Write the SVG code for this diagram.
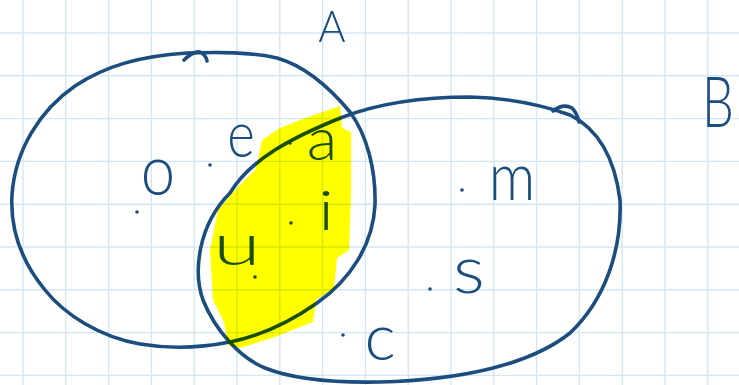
<svg xmlns="http://www.w3.org/2000/svg" width="739" height="385" viewBox="0 0 739 385">
<defs>
<style>
.grid line{stroke:#d3e7f3;stroke-width:1.4}
.set{fill:none;stroke:#1b4e7f;stroke-width:3.6;stroke-linecap:round;stroke-linejoin:round}
.lbl{font-family:Lato,"Liberation Sans",sans-serif;font-weight:300;fill:#1b4e7f;text-anchor:middle}
.dot{fill:#1b4e7f}
.hl{fill:#ffff00;mix-blend-mode:multiply}
</style>
</defs>
<rect width="739" height="385" fill="#ffffff"/>
<g id="grid" class="grid">
<line x1="23" y1="0" x2="23" y2="385"/><line x1="65.8" y1="0" x2="65.8" y2="385"/><line x1="108.6" y1="0" x2="108.6" y2="385"/><line x1="151.4" y1="0" x2="151.4" y2="385"/><line x1="194.2" y1="0" x2="194.2" y2="385"/><line x1="237" y1="0" x2="237" y2="385"/><line x1="279.8" y1="0" x2="279.8" y2="385"/><line x1="322.6" y1="0" x2="322.6" y2="385"/><line x1="365.4" y1="0" x2="365.4" y2="385"/><line x1="408.2" y1="0" x2="408.2" y2="385"/><line x1="451" y1="0" x2="451" y2="385"/><line x1="493.8" y1="0" x2="493.8" y2="385"/><line x1="536.6" y1="0" x2="536.6" y2="385"/><line x1="579.4" y1="0" x2="579.4" y2="385"/><line x1="622.2" y1="0" x2="622.2" y2="385"/><line x1="665" y1="0" x2="665" y2="385"/><line x1="707.8" y1="0" x2="707.8" y2="385"/>
<line x1="0" y1="33" x2="739" y2="33"/><line x1="0" y1="75.8" x2="739" y2="75.8"/><line x1="0" y1="118.6" x2="739" y2="118.6"/><line x1="0" y1="161.4" x2="739" y2="161.4"/><line x1="0" y1="204.2" x2="739" y2="204.2"/><line x1="0" y1="247" x2="739" y2="247"/><line x1="0" y1="289.8" x2="739" y2="289.8"/><line x1="0" y1="332.6" x2="739" y2="332.6"/><line x1="0" y1="375.4" x2="739" y2="375.4"/>
</g>
<g id="setA">
<path class="set" d="M187,53 C220,52 250,52 277,58 C305,66 330,88 350,112 C367,135 376,170 375,205 C373,245 350,280 317,303 C290,322 260,336 230,342 C200,348 170,349 140,344 C100,337 65,315 45,290 C22,262 10,230 12,195 C15,150 40,110 75,86 C105,66 140,56 187,53 Z"/>
<path class="set" d="M184,60 Q193,51 200,52 Q206,55 207,61"/>
<text class="lbl" font-size="44" transform="translate(332,42) scale(0.95,1)">A</text>
</g>
<g id="setB">
<path class="set" d="M230,193 C250,160 290,138 343,117 C380,103 420,97 470,97 C510,98 545,106 570,115 C600,130 615,160 620,200 C622,250 605,300 570,333 C530,365 460,380 380,382 C330,383 290,378 265,368 C240,358 215,330 203,300 C193,272 198,225 230,193 Z"/>
<path class="set" d="M553,111 Q563,103 572,108 Q577,113 579,122"/>
<text class="lbl" font-size="70" transform="translate(702,127) scale(0.72,1)" style="text-anchor:start">B</text>
</g>
<g id="elem-o"><circle class="dot" cx="137" cy="212" r="1.8"/><text class="lbl" font-size="70" transform="translate(158,195) scale(0.88,1)">o</text></g>
<g id="elem-e"><circle class="dot" cx="210" cy="165" r="1.8"/><text class="lbl" font-size="66" transform="translate(241,157) scale(0.8,1)">e</text></g>
<g id="elem-a"><circle class="dot" cx="290" cy="143" r="1.8"/><text class="lbl" font-size="60" transform="translate(322,160) scale(1.05,1)">a</text></g>
<g id="elem-i"><circle class="dot" cx="291" cy="223" r="1.8"/><text class="lbl" font-size="56" transform="translate(326,230) scale(1.3,1)">i</text></g>
<g id="elem-u"><circle class="dot" cx="255" cy="277" r="1.8"/><text class="lbl" font-size="58" transform="translate(237,265) scale(1.5,1)">u</text></g>
<g id="elem-m"><circle class="dot" cx="462" cy="190" r="1.8"/><text class="lbl" font-size="68" transform="translate(512,200) scale(0.85,1)">m</text></g>
<g id="elem-s"><circle class="dot" cx="430" cy="289" r="1.8"/><text class="lbl" font-size="68" transform="translate(469,293) scale(1.1,1)">s</text></g>
<g id="elem-c"><circle class="dot" cx="343" cy="335" r="1.8"/><text class="lbl" font-size="66" transform="translate(380,360)">c</text></g>
<g id="intersection">
<polygon class="hl" points="258,160 262,140 280,128 300,120 340,106 342,128 351,132 351,195 349,250 337,258 334,288 316,300 313,322 275,337 240,348 228,345 224,322 213,300 210,250 218,210 235,190 255,170"/>
</g>
</svg>
